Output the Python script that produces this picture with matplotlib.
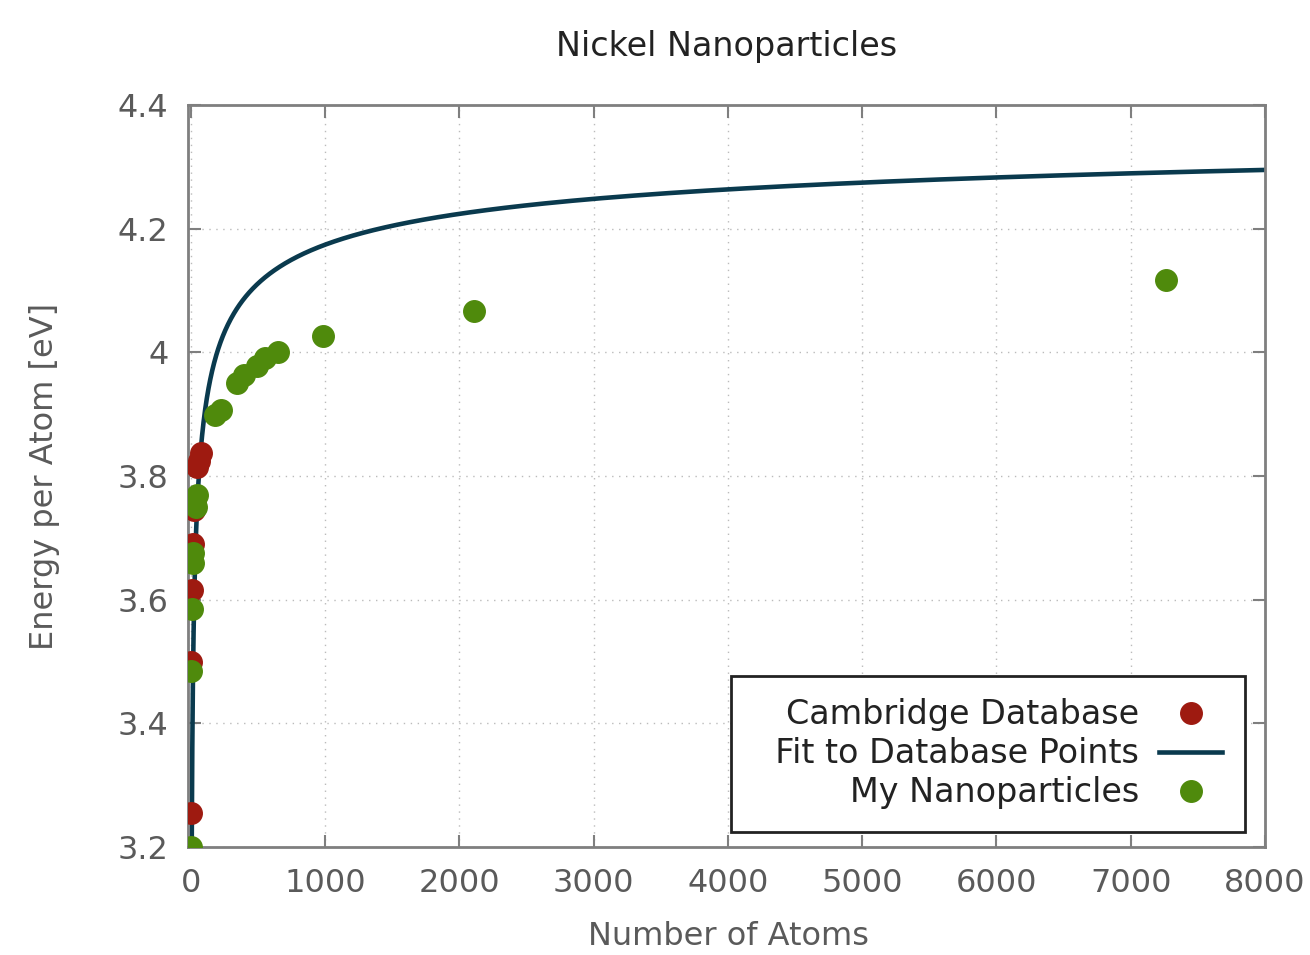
import numpy as np
import matplotlib
matplotlib.use("Agg")
import matplotlib.pyplot as plt

# ---- data ----
cambridge_n = [2, 6, 10, 15, 26, 32, 50, 62, 75]
cambridge_e = [3.255, 3.500, 3.615, 3.690, 3.745, 3.760, 3.815, 3.825, 3.838]

mine_n = [2, 6, 10, 14, 20, 40, 50,
          180, 225, 345, 400, 495, 555, 650, 985, 2110, 7265]
mine_e = [3.200, 3.485, 3.585, 3.660, 3.675, 3.750, 3.770,
          3.899, 3.907, 3.950, 3.963, 3.978, 3.991, 4.001, 4.026, 4.067, 4.117]

# fit parameters E(N) = fit_a - fit_b * N^(-1/3)
fit_a = 4.416
fit_b = 2.42
fit_nmin, fit_nmax = 1, 8000

x_ticks = [0, 1000, 2000, 3000, 4000, 5000, 6000, 7000, 8000]
y_ticks = [3.2, 3.4, 3.6, 3.8, 4.0, 4.2, 4.4]
y_ticklabels = ["3.2", "3.4", "3.6", "3.8", "4", "4.2", "4.4"]

red = "#9e1a10"
green = "#4f8a0c"
teal = "#0a3a4e"
gray = "#7f7f7f"
textgray = "#5a5a5a"

fig = plt.figure(figsize=(13.1, 9.55), dpi=100)
ax = fig.add_axes([188 / 1310, 1 - 847 / 955, (1265 - 188) / 1310, (847 - 105) / 955])

nfit = np.logspace(np.log10(fit_nmin), np.log10(fit_nmax), 600)
efit = fit_a - fit_b * nfit ** (-1.0 / 3.0)

ax.plot(cambridge_n, cambridge_e, "o", color=red, ms=15.5, mec=red, zorder=3,
        label="Cambridge Database")
ax.plot(nfit, efit, "-", color=teal, lw=3.3, zorder=2,
        label="  Fit to Database Points")
ax.plot(mine_n, mine_e, "o", color=green, ms=15.5, mec=green, zorder=4,
        label="My Nanoparticles")

ax.set_xlim(-20, 8000)
ax.set_ylim(3.2, 4.4)
ax.set_xticks(x_ticks)
ax.set_yticks(y_ticks)
ax.set_yticklabels(y_ticklabels)

ax.grid(True, linestyle=(0, (1, 4)), color="#bbbbbb", lw=1.0)
ax.set_axisbelow(True)

for s in ax.spines.values():
    s.set_color(gray)
    s.set_linewidth(2.0)

ax.tick_params(axis="both", direction="in", length=9, width=1.5, color=gray,
               labelcolor=textgray, labelsize=23, top=True, right=True)
ax.tick_params(axis="x", pad=15)
ax.tick_params(axis="y", pad=14)

ax.set_xlabel("Number of Atoms", fontsize=23, color=textgray)
ax.xaxis.set_label_coords((728 - 188) / 1077, (847 - 936) / 742)
ax.xaxis.label.set_va("center")
ax.set_ylabel("Energy per Atom [eV]", fontsize=23, color=textgray)
ax.yaxis.set_label_coords((45 - 188) / 1077, 0.5)
ax.yaxis.label.set_va("center")

ax.text(0.5, 1 + (105 - 46) / 742, "Nickel Nanoparticles", transform=ax.transAxes,
        ha="center", va="center", fontsize=24, color="#222222")

leg = ax.legend(loc="lower right",
                bbox_to_anchor=((1245 - 188) / 1077, (847 - 832) / 742),
                markerfirst=False, fancybox=False, framealpha=1,
                edgecolor="#222222", fontsize=24, handlelength=1.9,
                labelspacing=0.18, borderpad=0.68, handletextpad=0.6,
                borderaxespad=0)
leg.get_frame().set_linewidth(2.0)
for t in leg.get_texts():
    t.set_color("#222222")

fig.savefig("out.png", dpi=100)
